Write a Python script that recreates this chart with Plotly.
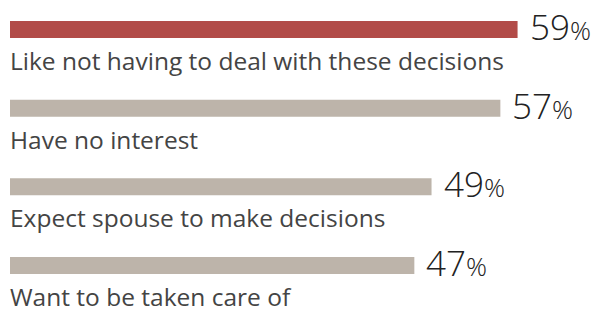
import plotly.graph_objects as go

categories = ["Like not having to deal with these decisions", "Have no interest",
              "Expect spouse to make decisions", "Want to be taken care of"]
values = [59, 57, 49, 47]
colors = ["#B24B48", "#BDB4AA", "#BDB4AA", "#BDB4AA"]

fig = go.Figure(go.Bar(
    x=values, y=categories, orientation="h",
    marker=dict(color=colors, line=dict(width=0)),
    width=0.216, hoverinfo="skip",
))

for c, v in zip(categories, values):
    fig.add_annotation(x=0, y=c, xref="x", yref="y", text=c, showarrow=False,
                       xanchor="left", yanchor="middle", yshift=-31, xshift=-2,
                       font=dict(family="Open Sans", size=24.5, color="#444444"))
    fig.add_annotation(x=v, y=c, xref="x", yref="y",
                       text=f"{v}<span style='font-size:26px'>%</span>",
                       showarrow=False, xanchor="left", yanchor="middle", xshift=10, yshift=3,
                       font=dict(family="Open Sans", size=35, color="#222222", weight=300))

fig.update_layout(
    width=595, height=310, margin=dict(l=10, r=0, t=0, b=0),
    paper_bgcolor="white", plot_bgcolor="white", showlegend=False,
    xaxis=dict(range=[0, 68.0], visible=False, fixedrange=True),
    yaxis=dict(range=[3.565, -0.375], visible=False, fixedrange=True),
)
fig.write_html("out.html", config={"displayModeBar": False},
               post_script="document.body.style.margin='0px';")
